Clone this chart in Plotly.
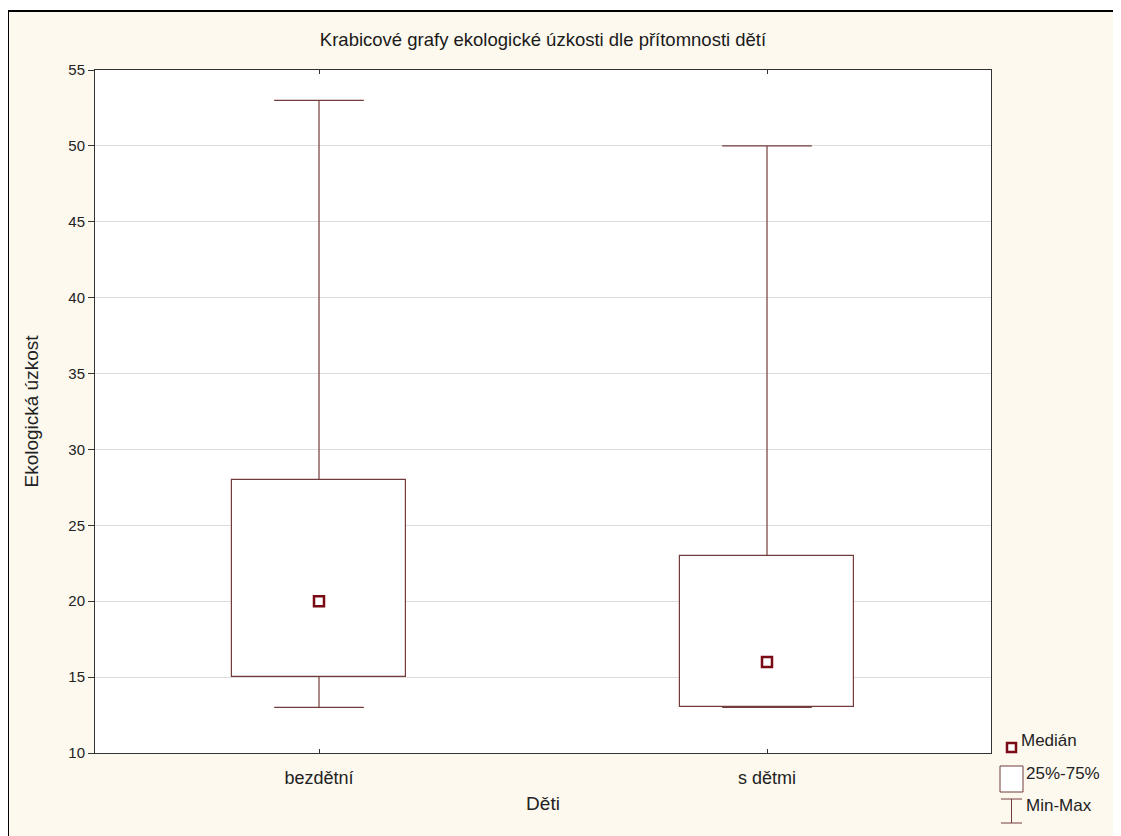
"""
Krabicové grafy ekologické úzkosti dle přítomnosti dětí (median / 25-75 % / min-max).
"""

import plotly.graph_objects as go

categories = ["bezdětní", "s dětmi"]
minimum = [13, 13]
q1 = [15, 13]
median = [20, 16]
q3 = [28, 23]
maximum = [53, 50]

y_ticks = [10, 15, 20, 25, 30, 35, 40, 45, 50, 55]
legend_labels = ["Medián", "25%-75%", "Min-Max"]

BOX_COLOR = "#733c3c"
MEDIAN_COLOR = "#7a0a14"
FONT = "Liberation Sans, Arial, sans-serif"
BOX_WIDTH = 0.39
CAP_HALF = 0.1

# figure geometry (page has an 8px body margin)
W, H = 1113, 828
ML, MR, MT, MB = 87, 130, 62, 83
PW, PH = W - ML - MR, H - MT - MB


def px(x, y):
    """Page pixel -> paper coords."""
    return (x - 8 - ML) / PW, (MT + PH - (y - 8)) / PH


xs = list(range(len(categories)))

# whisker segments + caps, built from the data
wx, wy = [], []
for i in xs:
    for a, b in ((q3[i], maximum[i]), (q1[i], minimum[i])):
        wx += [i, i, None, i - CAP_HALF, i + CAP_HALF, None]
        wy += [a, b, None, b, b, None]

fig = go.Figure()

fig.add_trace(
    go.Scatter(
        x=wx,
        y=wy,
        mode="lines",
        line=dict(color=BOX_COLOR, width=1.2),
        name="Min-Max",
        showlegend=False,
        hoverinfo="skip",
    )
)

fig.add_trace(
    go.Bar(
        x=xs,
        y=[b - a for a, b in zip(q1, q3)],
        base=q1,
        width=BOX_WIDTH,
        marker=dict(color="white", line=dict(color=BOX_COLOR, width=1.2)),
        name="25%-75%",
        showlegend=False,
        customdata=list(zip(q1, q3)),
        hovertemplate="%{customdata[0]} – %{customdata[1]}<extra></extra>",
    )
)

fig.add_trace(
    go.Scatter(
        x=xs,
        y=median,
        mode="markers",
        marker=dict(symbol="square-open", size=10, color=MEDIAN_COLOR, line=dict(width=2.5, color=MEDIAN_COLOR)),
        name="Medián",
        showlegend=False,
    )
)

# outer frame: black border on the left and top of the cream page
fx, fy = px(8, 11)
shapes = [
    dict(type="rect", xref="paper", yref="paper", x0=-0.2, x1=1.2, y0=fy, y1=1.2,
         fillcolor="white", line=dict(width=0), layer="above"),
    dict(type="line", xref="paper", yref="paper", x0=fx, x1=fx, y0=-0.2, y1=fy,
         line=dict(color="black", width=2)),
    dict(type="line", xref="paper", yref="paper", x0=fx, x1=1.2, y0=fy, y1=fy,
         line=dict(color="black", width=2)),
]

# hand-drawn legend (median square, box, min-max "I")
a0, b0 = px(1007, 743)
a1, b1 = px(1016, 752)
shapes.append(dict(type="rect", xref="paper", yref="paper", x0=a0, x1=a1, y0=b1, y1=b0,
                   fillcolor="white", line=dict(color=MEDIAN_COLOR, width=2.5)))
a0, b0 = px(1000, 766)
a1, b1 = px(1023, 792)
shapes.append(dict(type="rect", xref="paper", yref="paper", x0=a0, x1=a1, y0=b1, y1=b0,
                   fillcolor="white", line=dict(color=BOX_COLOR, width=1)))
a0, b0 = px(1001, 799)
a1, b1 = px(1022, 823)
am, _ = px(1011.5, 0)
for seg in (
    dict(x0=am, x1=am, y0=b1, y1=b0),
    dict(x0=a0, x1=a1, y0=b0, y1=b0),
    dict(x0=a0, x1=a1, y0=b1, y1=b1),
):
    shapes.append(dict(type="line", xref="paper", yref="paper", line=dict(color=BOX_COLOR, width=1), **seg))

annotations = []
for label, (lx, ly) in zip(legend_labels, [(1019, 740), (1024, 773), (1024, 805)]):
    ax_, ay_ = px(lx, ly)
    annotations.append(
        dict(text=label, xref="paper", yref="paper", x=ax_, y=ay_, xanchor="left", yanchor="middle",
             showarrow=False, font=dict(size=17, color="#222222"))
    )

fig.update_layout(
    width=W,
    height=H,
    margin=dict(l=ML, r=MR, t=MT, b=MB),
    paper_bgcolor="#fdf9ef",
    plot_bgcolor="white",
    font=dict(family=FONT, size=15, color="#222222"),
    title=dict(
        text="Krabicové grafy ekologické úzkosti dle přítomnosti dětí",
        x=0.5,
        xanchor="center",
        xref="paper",
        y=1 - 32 / H,
        yanchor="middle",
        font=dict(size=18.5, color="#1a1a1a"),
    ),
    xaxis=dict(
        range=[-0.5, 1.5],
        tickvals=xs,
        ticktext=categories,
        ticks="inside",
        ticklen=4,
        tickcolor="#333333",
        ticklabelstandoff=8,
        showgrid=False,
        zeroline=False,
        showline=True,
        linecolor="#333333",
        linewidth=1,
        mirror="ticks",
        tickfont=dict(size=18),
        title=dict(text="Děti", font=dict(size=19), standoff=10),
    ),
    yaxis=dict(
        range=[10, 55],
        tickvals=y_ticks,
        ticks="outside",
        ticklen=6,
        tickcolor="#333333",
        showgrid=True,
        gridcolor="#dcdcdc",
        gridwidth=1,
        zeroline=False,
        showline=True,
        linecolor="#333333",
        linewidth=1,
        mirror=True,
        tickfont=dict(size=15),
        title=dict(text="Ekologická úzkost", font=dict(size=19), standoff=24),
    ),
    showlegend=False,
    shapes=shapes,
    annotations=annotations,
    bargap=0,
)

fig.write_html("out.html")
